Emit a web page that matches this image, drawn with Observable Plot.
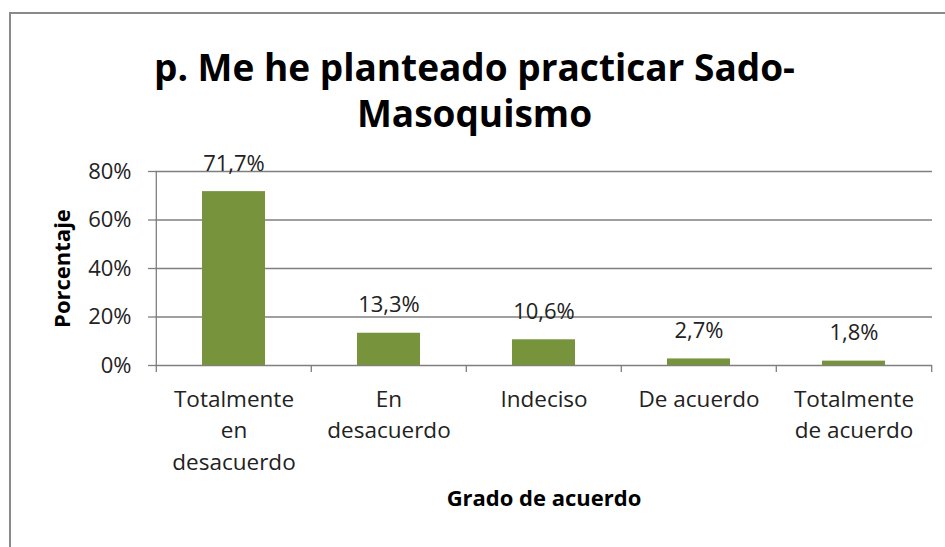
<!DOCTYPE html>
<html>
<head>
<meta charset="utf-8">
<script src="https://cdn.jsdelivr.net/npm/d3@7"></script>
<script src="https://cdn.jsdelivr.net/npm/@observablehq/plot@0.6"></script>
<style>
  html, body { margin: 0; padding: 0; background: #fff; }
  #wrap { position: relative; width: 945px; height: 547px; overflow: hidden; font-family: "Open Sans", sans-serif; }
  #border { position: absolute; left: 9px; top: 12px; width: 960px; height: 600px; border: 2px solid #8a8a8a; box-sizing: border-box; }
  #title { position: absolute; left: 0; top: 44px; width: 945px; text-align: center; font-weight: bold; font-size: 37px; line-height: 46px; color: #000; padding-left: 2px; }
  #chart { position: absolute; left: 0; top: 0; }
</style>
</head>
<body>
<div id="wrap">
  <div id="border"></div>
  <div id="chart"></div>
  <div id="title">p. Me he planteado practicar Sado-<br>Masoquismo</div>
</div>
<script>
const categories = ["Totalmente en desacuerdo", "En desacuerdo", "Indeciso", "De acuerdo", "Totalmente de acuerdo"];
const tickLabels = ["Totalmente\nen\ndesacuerdo", "En\ndesacuerdo", "Indeciso", "De acuerdo", "Totalmente\nde acuerdo"];
const values = [71.7, 13.3, 10.6, 2.7, 1.8];
const yTicks = [0, 20, 40, 60, 80];

const data = categories.map((c, i) => ({category: c, value: values[i]}));
const W = 945, H = 547, mL = 155, mR = 13, mT = 171, mB = 182;
const half = (W - mL - mR) / categories.length / 2;
const fmt = v => v.toFixed(1).replace(".", ",") + "%";
const labelMap = new Map(categories.map((c, i) => [c, tickLabels[i]]));
const gridColor = "#7f7f7f";

const chart = Plot.plot({
  width: W, height: H,
  marginLeft: mL, marginRight: mR, marginTop: mT, marginBottom: mB,
  style: {background: "transparent", fontFamily: "Open Sans, sans-serif", color: "#222"},
  x: {domain: categories, padding: 0, label: null},
  y: {domain: [0, 80], label: null},
  marks: [
    Plot.ruleY(yTicks, {y: d => d, stroke: gridColor, strokeWidth: 1.3}),
    Plot.barY(data, {x: "category", y: "value", fill: "#77933C", insetLeft: 46, insetRight: 46}),
    Plot.ruleX([categories[0]], {dx: -half, y1: 0, y2: 80, stroke: gridColor, strokeWidth: 1.3}),
    Plot.ruleX(categories, {x: d => d, dx: -half, y: 0, stroke: gridColor, strokeWidth: 1.3, insetBottom: -7}),
    Plot.ruleX([categories[categories.length - 1]], {dx: half, y: 0, stroke: gridColor, strokeWidth: 1.3, insetBottom: -7}),
    Plot.text(data, {x: "category", y: "value", text: d => fmt(d.value), lineAnchor: "bottom", dy: -21, fontSize: 22, fill: "#222"}),
    Plot.axisY({ticks: yTicks, tickFormat: d => d + "%", tickSize: 7, tickPadding: 17, fontSize: 22, stroke: gridColor, strokeWidth: 1.3, label: null}),
    Plot.axisX({tickSize: 0, tickPadding: 19, fontSize: 22.5, lineHeight: 1.4, tickFormat: d => labelMap.get(d), label: null}),
    Plot.text(["Porcentaje"], {frameAnchor: "left", textAnchor: "middle", dx: -93, rotate: -90, fontSize: 22, fontWeight: "bold", fill: "#000"}),
    Plot.text(["Grado de acuerdo"], {frameAnchor: "bottom", dy: 140, fontSize: 22, fontWeight: "bold", fill: "#000"})
  ]
});
document.getElementById("chart").appendChild(chart);
</script>
</body>
</html>
